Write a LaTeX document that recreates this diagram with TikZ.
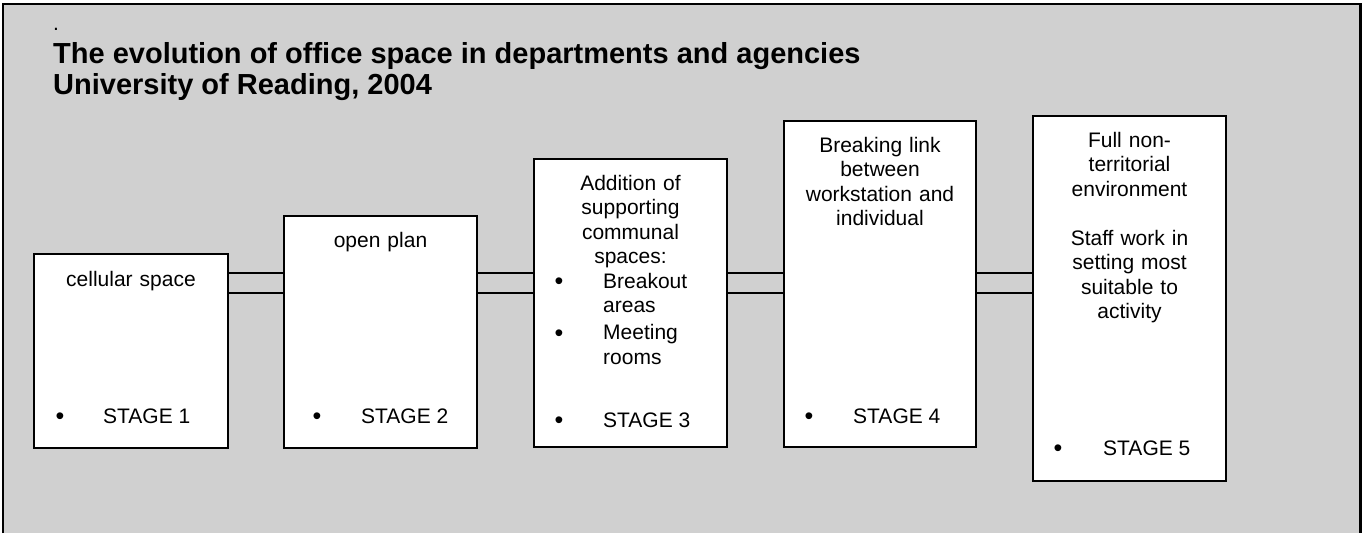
\documentclass[tikz,border=0pt]{standalone}
\usepackage{fontspec}
\setmainfont{Liberation Sans}
\definecolor{bggray}{RGB}{208,208,208}
\begin{document}
\begin{tikzpicture}[x=1pt,y=-1pt,
  stagebox/.style={draw=black,line width=2pt,fill=white,inner sep=0pt},
  boxtext/.style={inner sep=0pt,anchor=base,text width=190pt,align=center,font=\fontsize{21}{24.5}\selectfont},
  lefttext/.style={inner sep=0pt,anchor=base west,align=left,font=\fontsize{21}{24.5}\selectfont},
  bul/.style={inner sep=0pt,anchor=base,yshift=-1.5pt,font=\fontsize{25}{25}\selectfont},
  conn/.style={draw=black,line width=2pt},
  titletext/.style={inner sep=0pt,anchor=base west,align=left,font=\fontsize{29}{31}\selectfont\bfseries}
]
\useasboundingbox (0,0) rectangle (1362,533);
\fill[white] (0,0) rectangle (1362,533);
\fill[bggray] (3,4) rectangle (1360,533);
\draw[line width=1.5pt] (3,533) -- (3,4) -- (1360,4);
\draw[line width=3pt] (1360,3) -- (1360,533);

% title (base anchor = baseline of last line)
\node[inner sep=0pt,anchor=base west,font=\fontsize{21}{21}\selectfont] (dot) at (53,30) {.};
\node[titletext] (title) at (53,94) {The evolution of office space in departments and agencies\\University of Reading, 2004};

% boxes
\node[stagebox,minimum width=194pt,minimum height=194pt] (b1) at (131,351) {};
\node[stagebox,minimum width=193pt,minimum height=232pt] (b2) at (380.5,332) {};
\node[stagebox,minimum width=193pt,minimum height=288pt] (b3) at (630.5,303) {};
\node[stagebox,minimum width=192pt,minimum height=326pt] (b4) at (880,284) {};
\node[stagebox,minimum width=193pt,minimum height=365pt] (b5) at (1129.5,298.5) {};

% connectors
\coordinate (lt) at (0,273);
\coordinate (lb) at (0,293);
\foreach \a/\b in {b1/b2,b2/b3,b3/b4,b4/b5}{
  \draw[conn] (\a.east |- lt) -- (\b.west |- lt);
  \draw[conn] (\a.east |- lb) -- (\b.west |- lb);
}

% box texts (text width nodes: base = first line baseline)
\node[boxtext] (t1) at (131,286) {cellular space};
\node[boxtext] (t2) at (380.5,247) {open plan};
\node[boxtext] (t3) at (630.5,190) {Addition of\\supporting\\communal\\spaces:};
\node[bul] (t3b1) at (559,288) {•};
\node[lefttext] (t3i1) at (603,312.5) {Breakout\\areas};
\node[bul] (t3b2) at (559,340) {•};
\node[lefttext] (t3i2) at (603,364) {Meeting\\rooms};
\node[boxtext] (t4) at (880,152) {Breaking link\\between\\workstation and\\individual};
\node[boxtext] (t5) at (1129.5,147) {Full non-\\territorial\\environment\\[24.5pt]Staff work in\\setting most\\suitable to\\activity};

% stage labels
\node[bul] (s1b) at (60,423) {•};
\node[lefttext] (s1) at (103,423) {STAGE 1};
\node[bul] (s2b) at (317,423) {•};
\node[lefttext] (s2) at (361,423) {STAGE 2};
\node[bul] (s3b) at (559,427) {•};
\node[lefttext] (s3) at (603,427) {STAGE 3};
\node[bul] (s4b) at (809,423) {•};
\node[lefttext] (s4) at (853,423) {STAGE 4};
\node[bul] (s5b) at (1058,455) {•};
\node[lefttext] (s5) at (1103,455) {STAGE 5};
\end{tikzpicture}
\end{document}
